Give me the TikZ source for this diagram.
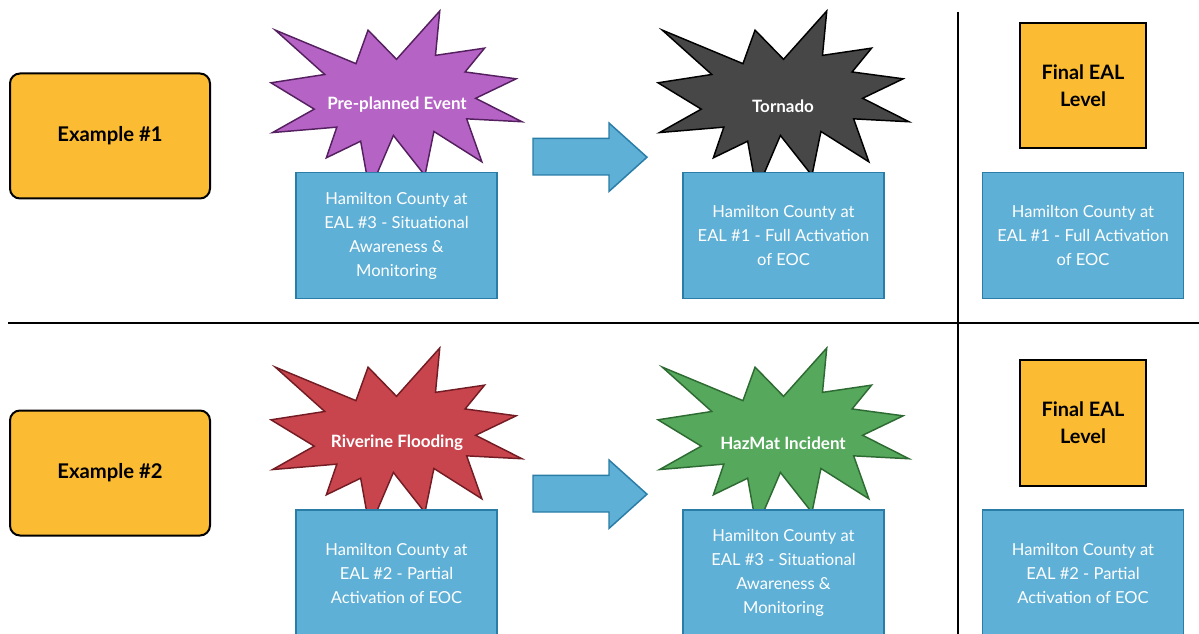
\documentclass[tikz,border=0pt]{standalone}
\usepackage{fontspec}
\setmainfont{Lato}
\usetikzlibrary{positioning}

\definecolor{eorange}{HTML}{FBBC33}
\definecolor{eblue}{HTML}{5FB0D6}
\definecolor{eblueline}{HTML}{2A7DA6}
\definecolor{epurple}{HTML}{B663C6}
\definecolor{epurpleline}{HTML}{55205F}
\definecolor{egrey}{HTML}{474747}
\definecolor{ered}{HTML}{C9454D}
\definecolor{eredline}{HTML}{731C24}
\definecolor{egreen}{HTML}{56A85C}
\definecolor{egreenline}{HTML}{2E6B33}

\tikzset{
  burst/.pic={\path[pic actions] (108,58) -- (145.22,0) -- (141.55,53.25) -- (183.80,44.57) -- (167.02,73.15) -- (210.97,81.37) -- (176.07,104.75) -- (216,132.90) -- (168.37,129.42) -- (181.45,180.95) -- (140.20,144.57) -- (132.47,197.37) -- (105.32,149.35) -- (84.85,216) -- (77.15,156.27) -- (47.62,176.17) -- (56.67,139.37) -- (1.35,145.87) -- (37.22,117.75) -- (0,86.15) -- (46.27,76.17) -- (3.70,22.95) -- (73.12,63.20) -- (83.52,22.95) -- cycle;},
  blockarrow/.pic={\path[pic actions] (0,15.3) -- (76,15.3) -- (76,0) -- (114,34.2) -- (76,68.4) -- (76,52) -- (0,52) -- cycle;}
}

\begin{document}
\begin{tikzpicture}[x=0.75pt,y=-0.75pt]
                    \tikzstyle{example}=[draw=black,line width=1.5pt,fill=eorange,rounded corners=7.5pt,minimum width=200*0.75pt,minimum height=125*0.75pt,font=\fontsize{15.2}{18}\selectfont\bfseries]
                    \tikzstyle{final}=[draw=black,line width=1.5pt,fill=eorange,minimum width=126*0.75pt,minimum height=125*0.75pt,align=center,font=\fontsize{14.9}{20}\selectfont\bfseries]
                    \tikzstyle{eal}=[draw=eblueline,line width=1.1pt,fill=eblue,text=white,minimum width=201*0.75pt,minimum height=126*0.75pt,align=center,font=\fontsize{12.4}{18}\selectfont]
                    \tikzstyle{event}=[text=white,font=\fontsize{12.75}{15}\selectfont\bfseries]
                    \tikzstyle{burstpic}=[line width=1.1pt,xscale=251/216,yscale=180/216]
                    \tikzstyle{arrowpic}=[draw=eblueline,fill=eblue,line width=1.1pt]
                    \useasboundingbox (0,0) rectangle (1199,634);

                    \draw [line width=1.5pt] (8,323) -- (1199,323);
                    \draw [line width=1.5pt] (958,12) -- (958,634);

                    \node (ex1) at (110,136) [example] {Example \#1};
                    \node (ex2) at (110,473) [example] {Example \#2};

                    \pic [burstpic,fill=epurple,draw=epurpleline] at (271,11) {burst};
                    \pic [burstpic,fill=egrey,draw=black] at (658,11) {burst};
                    \pic [burstpic,fill=ered,draw=eredline] at (271,348) {burst};
                    \pic [burstpic,fill=egreen,draw=egreenline] at (658,348) {burst};

                    \node (e1) at (397,105) [event] {Pre-planned Event};
                    \node (e2) at (783,106) [event] {Tornado};
                    \node (e3) at (397,443) [event] {Riverine Flooding};
                    \node (e4) at (783,443) [event] {HazMat Incident};

                    \node (c1) at (396.5,235.5) [eal] {Hamilton County at\\EAL \#3 - Situational\\Awareness \&\\Monitoring};
                    \node (t1) at (783.5,235.5) [eal] {Hamilton County at\\EAL \#1 - Full Activation\\of EOC};
                    \node (f1) at (1083,235.5) [eal] {Hamilton County at\\EAL \#1 - Full Activation\\of EOC};
                    \node (c2) at (396.5,573) [eal] {Hamilton County at\\EAL \#2 - Partial\\Activation of EOC};
                    \node (t2) at (783.5,573) [eal] {Hamilton County at\\EAL \#3 - Situational\\Awareness \&\\Monitoring};
                    \node (f2) at (1083,573) [eal] {Hamilton County at\\EAL \#2 - Partial\\Activation of EOC};

                    \node (fin1) at (1083,85.5) [final] {Final EAL\\Level};
                    \node (fin2) at (1083,423) [final] {Final EAL\\Level};

                    \pic [arrowpic] at (533,123) {blockarrow};
                    \pic [arrowpic] at (533,460) {blockarrow};
\end{tikzpicture}
\end{document}
